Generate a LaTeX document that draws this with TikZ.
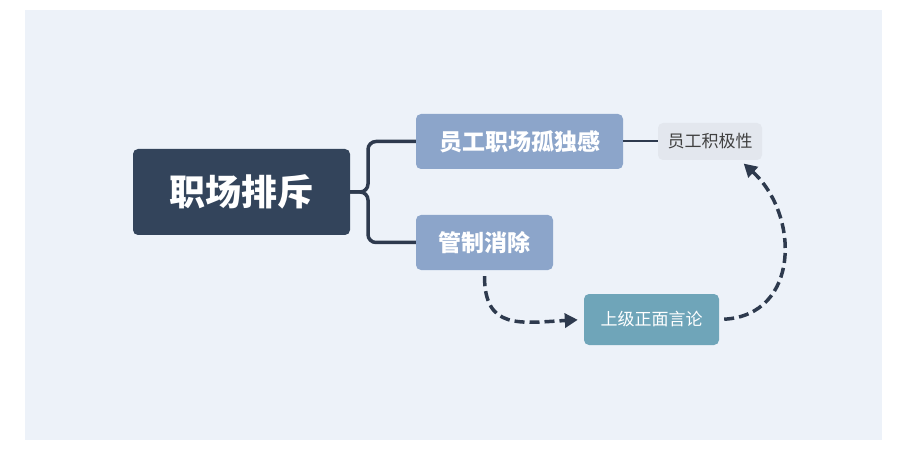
\documentclass[tikz,border=0pt]{standalone}
\usepackage{fontspec}
\newfontfamily\cjk{Noto Sans CJK SC}
\usetikzlibrary{arrows.meta}
\definecolor{bgblue}{HTML}{EDF2F9}
\definecolor{rootnavy}{HTML}{33445B}
\definecolor{branchblue}{HTML}{8CA5CA}
\definecolor{leafgray}{HTML}{E3E7EE}
\definecolor{tealbox}{HTML}{6FA5B9}
\definecolor{linkdark}{HTML}{2E3A4E}

\begin{document}
\begin{tikzpicture}[x=1pt, y=-1pt,
    box/.style={rounded corners=5pt, inner sep=0pt, text=white, font=\cjk},
    link/.style={draw=linkdark, line width=3.5pt, rounded corners=8pt},
    flow/.style={draw=linkdark, line width=3.5pt, dash pattern=on 10pt off 5pt,
      -{Triangle[length=13pt, width=14pt]}}]
      \def\fontbig{\fontsize{36}{40}\selectfont\bfseries}
      \def\fontmid{\fontsize{23}{27}\selectfont\bfseries}

      \fill[white] (0,0) rectangle (912,462);
      \fill[bgblue] (25,10) rectangle (882,440);

      \node[box, fill=rootnavy, minimum width=217pt, minimum height=86pt] (root) at (241.5,192) {\fontbig 职场排斥};
      \node[box, fill=branchblue, minimum width=207pt, minimum height=55pt] (lonely) at (519.5,141.5) {\fontmid 员工职场孤独感};
      \node[box, fill=branchblue, minimum width=137pt, minimum height=55pt] (control) at (484.5,242.5) {\fontmid 管制消除};
      \node[box, fill=leafgray, text=black!75, minimum width=104pt, minimum height=37pt] (motive) at (710,141.5) {\fontsize{17}{20}\selectfont 员工积极性};
      \node[box, fill=tealbox, minimum width=135pt, minimum height=51pt] (praise) at (651.5,319.5) {\fontsize{17}{20}\selectfont 上级正面言论};

      \coordinate (fork) at (368,192);
      \draw[link] (root.east) -- (fork) |- (lonely.west);
      \draw[link] (root.east) -- (fork) |- (control.west);
      \draw[draw=linkdark, line width=2pt] (lonely.east) -- (motive.west);

      \draw[flow, shorten <=6pt, shorten >=6pt] (control.south) .. controls (484.5,330) and (520,323) .. (praise.west);
      \draw[flow, shorten <=5pt, shorten >=5pt] (praise.east) .. controls (800,315) and (800,215) .. ([xshift=30pt]motive.south);

    \end{tikzpicture}
\end{document}
